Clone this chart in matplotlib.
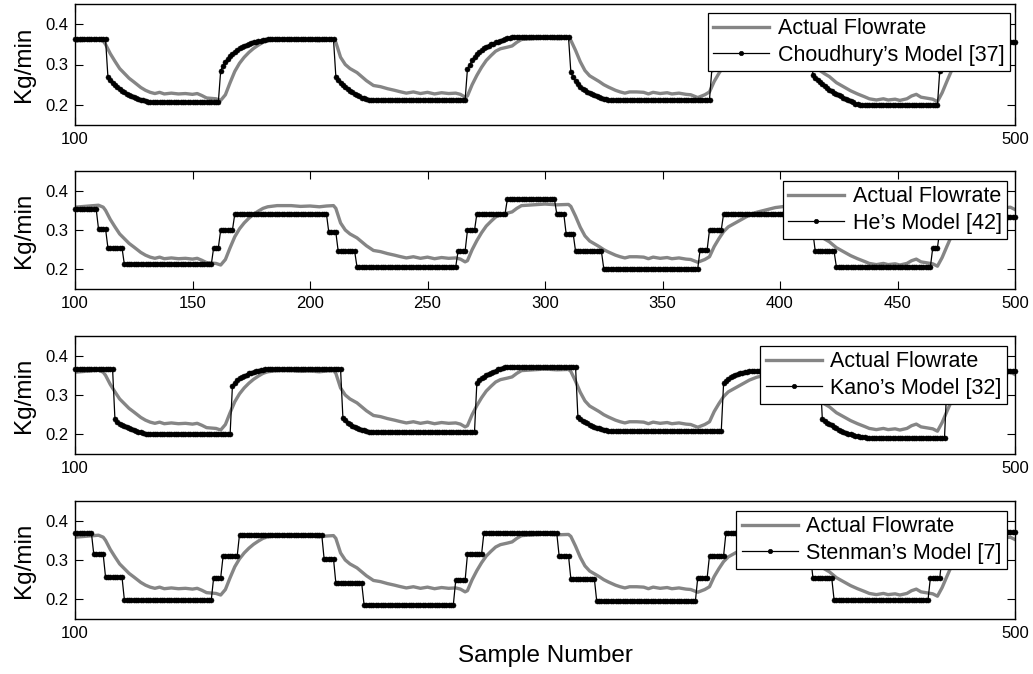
import numpy as np
import matplotlib
matplotlib.use('Agg')
import matplotlib.pyplot as plt

plt.rcParams['font.family'] = ['Liberation Sans', 'DejaVu Sans']

# actual flowrate (same measured signal in every panel), read at these sample numbers
actual_x = [100, 104, 108, 110, 112, 113, 115, 117, 119, 121, 123, 125, 128, 130, 132, 134,
            136, 138, 141, 144, 147, 150, 152, 154, 156, 158, 160, 162, 164, 166, 168, 170,
            172, 174, 176, 178, 180, 182, 186, 192, 196, 200, 204, 207, 210,
            211, 213, 215, 217, 220, 222, 224, 227, 230, 233, 236, 238, 241, 244, 247, 250,
            253, 256, 259, 262, 264, 266, 267, 269, 271, 273, 275, 277, 279, 281, 284, 286,
            288, 290, 295, 300, 305, 310,
            311, 313, 315, 317, 319, 321, 323, 325, 327, 330, 332, 334, 336, 339, 342, 344,
            346, 349, 352, 354, 357, 360, 362, 365, 368, 370, 372, 374, 376, 378, 381, 384,
            387, 390, 394, 398, 402, 406, 410,
            411, 413, 415, 417, 419, 421, 424, 427, 430, 433, 436, 438, 441, 444, 446, 449,
            451, 454, 456, 458, 460, 463, 465, 467, 469, 471, 473, 475, 477, 480, 483, 486,
            489, 492, 495, 498, 500]
actual_y = [0.358, 0.360, 0.362, 0.363, 0.358, 0.350, 0.327, 0.308, 0.290, 0.278, 0.266, 0.257,
            0.243, 0.236, 0.231, 0.228, 0.231, 0.227, 0.229, 0.227, 0.228, 0.226, 0.228, 0.223,
            0.217, 0.216, 0.215, 0.211, 0.225, 0.255, 0.283, 0.303, 0.318, 0.330, 0.340, 0.348,
            0.355, 0.359, 0.362, 0.362, 0.360, 0.361, 0.359, 0.361, 0.362,
            0.355, 0.318, 0.300, 0.290, 0.280, 0.270, 0.260, 0.248, 0.245, 0.240, 0.236, 0.233,
            0.229, 0.232, 0.228, 0.231, 0.227, 0.230, 0.228, 0.229, 0.226, 0.219, 0.222, 0.250,
            0.273, 0.293, 0.310, 0.322, 0.333, 0.339, 0.343, 0.346, 0.355, 0.362, 0.364, 0.366,
            0.364, 0.365,
            0.360, 0.335, 0.307, 0.285, 0.272, 0.265, 0.258, 0.250, 0.244, 0.236, 0.232, 0.229,
            0.232, 0.232, 0.231, 0.227, 0.231, 0.228, 0.230, 0.227, 0.229, 0.226, 0.225, 0.218,
            0.225, 0.232, 0.258, 0.278, 0.296, 0.308, 0.318, 0.328, 0.338, 0.345, 0.351, 0.357,
            0.360, 0.361, 0.360,
            0.352, 0.318, 0.298, 0.285, 0.277, 0.270, 0.255, 0.245, 0.235, 0.227, 0.220, 0.215,
            0.212, 0.215, 0.212, 0.214, 0.211, 0.215, 0.222, 0.226, 0.219, 0.216, 0.214, 0.208,
            0.230, 0.258, 0.285, 0.305, 0.318, 0.330, 0.338, 0.345, 0.350, 0.354, 0.356, 0.358,
            0.352]

# model estimates, one value per sample from 100 to 500
choudhury = ([0.362] * 14 +
             [0.270, 0.262, 0.255, 0.249, 0.244, 0.239, 0.235, 0.231, 0.228, 0.225, 0.222,
              0.220, 0.217, 0.215, 0.213, 0.211, 0.209] +
             [0.207] * 31 +
             [0.285, 0.297, 0.306, 0.314, 0.321, 0.327, 0.332, 0.336, 0.340, 0.343, 0.346,
              0.349, 0.351, 0.353, 0.355, 0.357, 0.358, 0.359, 0.360, 0.361] +
             [0.362] * 29 +
             [0.270, 0.262, 0.255, 0.249, 0.244, 0.239, 0.235, 0.231, 0.227, 0.224, 0.221,
              0.218, 0.216, 0.214, 0.213] +
             [0.212] * 41 +
             [0.289, 0.300, 0.310, 0.318, 0.325, 0.331, 0.336, 0.340, 0.344, 0.347, 0.350,
              0.352, 0.355, 0.357, 0.359, 0.361, 0.363, 0.365, 0.366] +
             [0.368] * 25 +
             [0.281, 0.268, 0.258, 0.251, 0.245, 0.240, 0.236, 0.233, 0.230, 0.227, 0.224,
              0.221, 0.219, 0.217, 0.215, 0.214] +
             [0.213] * 44 +
             [0.288, 0.300, 0.310, 0.318, 0.325, 0.331, 0.336, 0.340, 0.344, 0.347, 0.350,
              0.352, 0.354, 0.356, 0.358, 0.359] +
             [0.360] * 27 +
             [0.273, 0.267, 0.261, 0.256, 0.251, 0.246, 0.242, 0.238, 0.234, 0.230, 0.227,
              0.224, 0.221, 0.218, 0.215, 0.212, 0.209, 0.206, 0.203, 0.201] +
             [0.200] * 34 +
             [0.285, 0.297, 0.307, 0.315, 0.322, 0.328, 0.333, 0.337, 0.340, 0.343, 0.346,
              0.348, 0.350, 0.352, 0.354, 0.355] +
             [0.356] * 17)

kano = ([0.365] * 17 +
        [0.238, 0.231, 0.227, 0.224, 0.221, 0.218, 0.215, 0.213, 0.211, 0.209, 0.207, 0.206,
         0.204, 0.202, 0.201] +
        [0.200] * 35 +
        [0.324, 0.331, 0.337, 0.342, 0.346, 0.349, 0.352, 0.355, 0.357, 0.359, 0.361, 0.362,
         0.363, 0.364, 0.365] +
        [0.366] * 32 +
        [0.242, 0.236, 0.230, 0.226, 0.222, 0.219, 0.217, 0.214, 0.212, 0.210, 0.208, 0.207] +
        [0.206] * 45 +
        [0.331, 0.337, 0.342, 0.346, 0.350, 0.353, 0.356, 0.359, 0.362, 0.365, 0.367, 0.369,
         0.370, 0.371] +
        [0.372] * 29 +
        [0.244, 0.239, 0.235, 0.231, 0.228, 0.225, 0.222, 0.219, 0.217, 0.215, 0.213, 0.211,
         0.210, 0.209] +
        [0.208] * 48 +
        [0.330, 0.336, 0.341, 0.345, 0.348, 0.351, 0.353, 0.355, 0.357, 0.358, 0.359, 0.360,
         0.361, 0.362] +
        [0.362] * 28 +
        [0.240, 0.235, 0.230, 0.226, 0.223, 0.219, 0.215, 0.212, 0.209, 0.206, 0.204, 0.202,
         0.200, 0.198, 0.196, 0.195, 0.194, 0.193, 0.192] +
        [0.191] * 34 +
        [0.325, 0.333, 0.339, 0.344, 0.348, 0.351, 0.354, 0.356, 0.358, 0.359, 0.360, 0.361] +
        [0.362] * 18)

# stepped models: level and how many samples it is held
he_levels = [0.354, 0.303, 0.255, 0.2125, 0.255, 0.300, 0.341, 0.294, 0.246, 0.206, 0.246,
             0.299, 0.341, 0.379, 0.341, 0.290, 0.246, 0.202, 0.250, 0.300, 0.341, 0.294,
             0.246, 0.206, 0.255, 0.300, 0.334]
he_counts = [10, 4, 7, 38, 3, 6, 40, 4, 8, 43, 4, 4, 13, 21, 4, 4, 12, 41, 4, 6, 34, 5, 9,
             41, 3, 4, 29]

stenman_levels = [0.368, 0.314, 0.2565, 0.199, 0.255, 0.309, 0.3646, 0.303, 0.241, 0.1865,
                  0.248, 0.314, 0.369, 0.311, 0.2524, 0.1957, 0.255, 0.311, 0.369, 0.311,
                  0.255, 0.1995, 0.255, 0.311, 0.372]
stenman_counts = [8, 5, 8, 38, 4, 7, 36, 5, 12, 39, 5, 7, 32, 5, 11, 43, 5, 7, 32, 5, 9, 41,
                  5, 6, 26]

he = np.repeat(he_levels, he_counts)
stenman = np.repeat(stenman_levels, stenman_counts)

models = [choudhury, he, kano, stenman]
names = ['Choudhury\u2019s Model [37]', 'He\u2019s Model [42]',
         'Kano\u2019s Model [32]', 'Stenman\u2019s Model [7]']

W, H = 1033, 674
fig = plt.figure(figsize=(W / 100, H / 100), dpi=100)

# panel boxes in pixels (top, bottom)
boxes = [(4, 125), (171, 289), (336, 454), (501, 619)]
left, right = 75, 1015
leg_anchor = [(0.9947, 0.926), (0.9915, 0.915), (0.9915, 0.915), (0.9915, 0.915)]

axes = []
for i, (top, bot) in enumerate(boxes):
    ax = fig.add_axes([left / W, 1 - bot / H, (right - left) / W, (bot - top) / H])
    axes.append(ax)
    y = np.asarray(models[i])
    x = np.arange(100, 100 + len(y))
    ax.plot(actual_x, actual_y, color='#858585', lw=2.4, label='Actual Flowrate')
    ax.plot(x, y, color='k', lw=0.9, marker='o', ms=3.6, mew=0.4, mec='k',
            label=names[i], clip_on=False)
    ax.set_xlim(100, 500)
    ax.set_ylim(0.15, 0.45)
    ax.set_yticks([0.2, 0.3, 0.4])
    ax.set_yticklabels(['0.2', '0.3', '0.4'])
    if i == 1:
        ax.set_xticks(np.arange(100, 501, 50))
    else:
        ax.set_xticks([100, 500])
    ax.tick_params(direction='in', top=True, right=True, length=6, width=0.8,
                   labelsize=12, pad=5)
    for sp in ax.spines.values():
        sp.set_linewidth(1.0)
    ax.set_ylabel('Kg/min', fontsize=17.5)
    ax.yaxis.set_label_coords(-0.043, 0.5)
    leg = ax.legend(loc='upper right', bbox_to_anchor=leg_anchor[i], borderaxespad=0,
                    fontsize=15.5, fancybox=False, framealpha=1, edgecolor='k',
                    handlelength=2.6, handletextpad=0.4, borderpad=0.25,
                    labelspacing=0.25, markerscale=0.9)
    leg.get_frame().set_linewidth(0.9)

axes[-1].set_xlabel('Sample Number', fontsize=17.5)
axes[-1].xaxis.set_label_coords(0.5, -0.22)

fig.savefig('out.png', dpi=100)
